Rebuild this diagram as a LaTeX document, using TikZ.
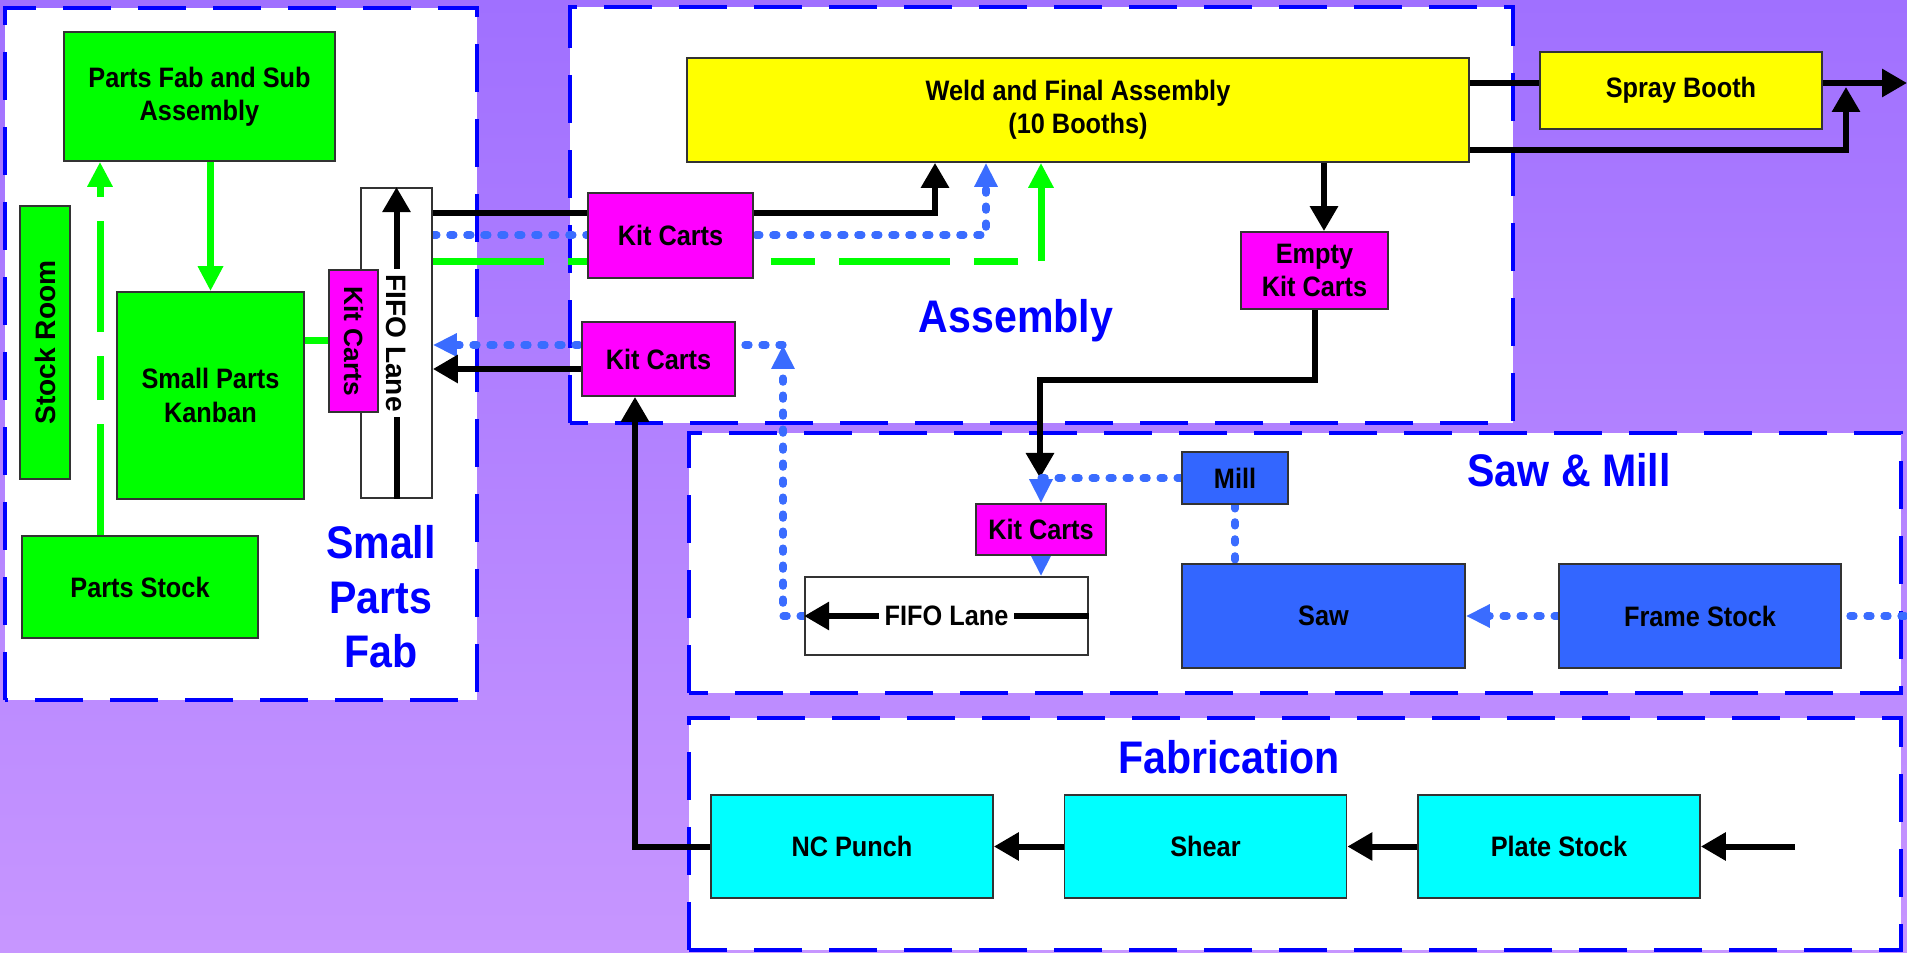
\documentclass[tikz,border=0pt]{standalone}
\usepackage{fontspec}
\setmainfont{Liberation Sans}[FakeStretch=0.9]
\newfontfamily\upright{Liberation Sans}
\usetikzlibrary{arrows.meta,positioning,calc,backgrounds}
\definecolor{bgtop}{HTML}{A070FF}
\definecolor{bgbot}{HTML}{C796FF}
\definecolor{zoneblue}{HTML}{0000FF}
\definecolor{grn}{HTML}{00FF00}
\definecolor{mag}{HTML}{FF00FF}
\definecolor{yel}{HTML}{FFFF00}
\definecolor{cyn}{HTML}{00FFFF}
\definecolor{stl}{HTML}{3366FF}
\definecolor{dotblue}{HTML}{3A6CFF}
\pgfdeclarelayer{backdrop}
\pgfsetlayers{backdrop,background,main}

\begin{document}
\begin{tikzpicture}[
  stn/.style={rectangle, draw=black!80, line width=0.5pt, fill=#1, inner sep=1pt, align=center, font=\fontsize{8}{9.5}\selectfont\bfseries},
  zone/.style={draw=zoneblue, fill=white, line width=0.04cm, dash pattern=on 0.48cm off 0.27cm},
  ztitle/.style={text=zoneblue, font=\fontsize{13}{15.5}\selectfont\bfseries, align=center},
  lanetxt/.style={fill=white, inner sep=1.5pt, font=\fontsize{8}{9.5}\selectfont\bfseries},
  blk/.style={line width=0.06cm, black},
  blkarr/.style={blk, -{Triangle[length=0.25cm,width=0.27cm]}},
  bdot/.style={line width=0.073cm, dotblue, dash pattern=on 0.04cm off 0.13cm, line cap=round},
  dotarr/.style={bdot, -{Triangle[length=0.24cm,width=0.22cm]}},
  gln/.style={line width=0.07cm, grn},
  garr/.style={gln, -{Triangle[length=0.25cm,width=0.24cm]}},
  gdash/.style={garr, dash pattern=on 1.11cm off 0.24cm on 0.44cm off 0.24cm}
]
  \useasboundingbox (0,0) rectangle (19.07,9.52);
  % canvas and areas
  \begin{pgfonlayer}{backdrop}
    \shade[top color=bgtop, bottom color=bgbot] (0,0) rectangle (19.07,9.52);
    \draw[zone] (0.05,2.52) rectangle (4.77,9.44);
    \draw[zone] (5.70,5.29) rectangle (15.13,9.45);
    \draw[zone] (6.89,2.59) rectangle (19.01,5.19);
    \draw[zone] (6.89,0.02) rectangle (19.01,2.34);
  \end{pgfonlayer}
  \node[ztitle] (lblspf) at (3.81,3.55) {Small\\Parts\\Fab};
  \node[ztitle] (lblasm) at (10.16,6.31) {Assembly};
  \node[ztitle] (lblsaw) at (15.69,4.82) {Saw \& Mill};
  \node[ztitle] (lblfab) at (12.29,1.95) {Fabrication};

  % Small Parts Fab
  \node[stn=grn, minimum width=2.71cm, minimum height=1.29cm] (partsfab) at (1.995,8.555) {Parts Fab and Sub\\Assembly};
  \node[stn=grn, minimum width=0.50cm, minimum height=2.73cm] (stockroom) at (0.45,6.095) {\rotatebox{90}{\upright Stock Room}};
  \node[stn=grn, minimum width=1.87cm, minimum height=2.07cm] (kanban) at (2.105,5.565) {Small Parts\\Kanban};
  \node[stn=grn, minimum width=2.36cm, minimum height=1.02cm] (partsstock) at (1.40,3.65) {Parts Stock};
  \node[stn=white, minimum width=0.71cm, minimum height=3.10cm] (fifoA) at (3.965,6.09) {};
  \node[stn=mag, minimum width=0.49cm, minimum height=1.42cm, font=\fontsize{7.5}{9}\selectfont\bfseries] (kitv) at (3.535,6.11) {\rotatebox{-90}{\upright Kit Carts}};
  \draw[blkarr] (fifoA.south) -- (fifoA.north) node[midway, lanetxt] {\rotatebox{-90}{\upright FIFO Lane}};

  % Assembly
  \node[stn=yel, minimum width=7.82cm, minimum height=1.04cm] (weld) at (10.78,8.42) {Weld and Final Assembly\\(10 Booths)};
  \node[stn=yel, minimum width=2.82cm, minimum height=0.77cm] (spray) at (16.81,8.615) {Spray Booth};
  \node[stn=mag, minimum width=1.65cm, minimum height=0.85cm] (kitA) at (6.705,7.165) {Kit Carts};
  \node[stn=mag, minimum width=1.53cm, minimum height=0.74cm] (kitB) at (6.585,5.93) {Kit Carts};
  \node[stn=mag, minimum width=1.47cm, minimum height=0.77cm] (emptykit) at (13.145,6.815) {Empty\\Kit Carts};

  % Saw & Mill
  \node[stn=mag, minimum width=1.30cm, minimum height=0.51cm] (kitC) at (10.41,4.225) {Kit Carts};
  \node[stn=stl, minimum width=1.06cm, minimum height=0.52cm] (mill) at (12.35,4.74) {Mill};
  \node[stn=stl, minimum width=2.83cm, minimum height=1.04cm] (sawbox) at (13.235,3.36) {Saw};
  \node[stn=stl, minimum width=2.82cm, minimum height=1.04cm] (frame) at (17.00,3.36) {Frame Stock};
  \node[stn=white, minimum width=2.83cm, minimum height=0.78cm] (fifoB) at (9.465,3.36) {};
  \draw[blkarr] (fifoB.east) -- (fifoB.west) node[midway, lanetxt] {FIFO Lane};

  % Fabrication
  \foreach \n/\x/\t in {ncpunch/8.52/NC Punch, shear/12.055/Shear, plate/15.59/Plate Stock}
    \node[stn=cyn, minimum width=2.82cm, minimum height=1.03cm] (\n) at (\x,1.055) {\t};

  % helper points
  \coordinate (xPS) at (1.00,0);
  \coordinate (yBk) at (0,7.39);
  \coordinate (yBd) at (0,7.17);
  \coordinate (yGn) at (0,6.90);
  \coordinate (xBk) at (9.35,0);
  \coordinate (xBd) at (9.86,0);
  \coordinate (xGn) at (10.41,0);
  \coordinate (rtn) at (7.83,6.07);
  \coordinate (yRk) at (0,5.83);
  \coordinate (xNC) at (6.35,0);
  \coordinate (yS) at (0,8.69);
  \coordinate (outR) at (19.07,8.69);
  \coordinate (yW) at (0,8.02);
  \coordinate (byp) at (18.46,8.65);
  \coordinate (xEk) at (13.24,0);
  \coordinate (yEk) at (0,5.72);
  \coordinate (kcIn) at (10.40,4.74);
  \coordinate (inR) at (19.05,3.36);
  \coordinate (inP) at (17.95,1.055);

  \begin{scope}[on background layer]
    % small parts loop
    \draw[garr] (partsfab.south -| kanban.north) -- (kanban.north);
    \draw[gdash] (partsstock.north -| xPS) -- (partsfab.south -| xPS);
    \draw[gln] (kanban.east |- kitv.west) -- (kitv.west);
    % kits to weld
    \draw[blkarr] (fifoA.east |- yBk) -| (xBk |- weld.south);
    \draw[dotarr] (fifoA.east |- yBd) -| (xBd |- weld.south);
    \draw[gdash] (fifoA.east |- yGn) -| (xGn |- weld.south);
    % returns
    \draw[dotarr] (fifoB.west) -| (rtn);
    \draw[dotarr] (rtn) -- (fifoA.east |- rtn);
    \draw[blkarr] (kitB.west |- yRk) -- (fifoA.east |- yRk);
    \draw[blkarr] (ncpunch.west) -| (xNC |- kitB.south);
    % paint and empties
    \draw[blk] (weld.east |- yS) -- (spray.west |- yS);
    \draw[blkarr] (spray.east |- yS) -- (outR);
    \draw[blkarr] (weld.east |- yW) -| (byp);
    \draw[blkarr] (xEk |- weld.south) -- (xEk |- emptykit.north);
    \draw[blkarr] (emptykit.south) |- (kcIn |- yEk) -- (kcIn);
    % saw & mill
    \draw[dotarr] (mill.west) -| (kitC.north);
    \draw[dotarr] (kitC.south) -- (kitC.south |- fifoB.north);
    \draw[bdot] (mill.south) -- (mill.south |- sawbox.north);
    \draw[dotarr] (frame.west) -- (sawbox.east);
    \draw[bdot] (inR) -- (frame.east);
    % fabrication
    \draw[blkarr] (inP) -- (plate.east);
    \draw[blkarr] (plate.west) -- (shear.east);
    \draw[blkarr] (shear.west) -- (ncpunch.east);
  \end{scope}
\end{tikzpicture}
\end{document}
